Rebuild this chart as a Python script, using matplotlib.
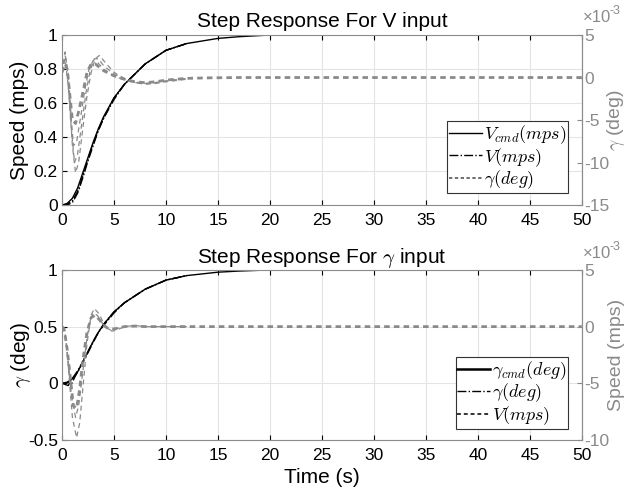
import numpy as np
import matplotlib.pyplot as plt
from matplotlib.ticker import MultipleLocator, FuncFormatter

plt.rcParams['font.family'] = ['Liberation Sans', 'DejaVu Sans']
plt.rcParams['mathtext.fontset'] = 'cm'
plt.rcParams['axes.unicode_minus'] = False

GRAY = '#8a8a8a'
BOX = '#8c8c8c'

# ---- V input step: commanded and measured speed (mps) ----
t_cmd = [0, 0.5, 1, 1.5, 2, 2.5, 3, 3.5, 4, 5, 6, 7, 8, 9, 10, 11, 12, 13, 14, 15, 17, 20, 25, 50]
v_cmd = [0, 0.01, 0.04, 0.10, 0.19, 0.28, 0.37, 0.45, 0.52, 0.63, 0.71, 0.77, 0.83, 0.87,
         0.91, 0.93, 0.95, 0.96, 0.97, 0.98, 0.99, 1.0, 1.0, 1.0]

t_meas = [0, 0.5, 1, 1.5, 2, 2.5, 3, 3.5, 4, 5, 6, 7, 8, 9, 10, 11, 12]
v_meas_a = [0, 0.005, 0.025, 0.08, 0.17, 0.27, 0.36, 0.44, 0.51, 0.63, 0.71, 0.77, 0.83, 0.87, 0.91, 0.93, 0.95]
v_meas_b = [0, 0.0, 0.015, 0.07, 0.16, 0.26, 0.35, 0.44, 0.51, 0.62, 0.71, 0.77, 0.83, 0.87, 0.91, 0.93, 0.95]

# flight path angle response to V input (deg x 1e-3)
tg1 = [0, 0.3, 0.5, 0.8, 1.0, 1.3, 1.6, 2.0, 2.4, 2.8, 3.2, 3.6, 4.0, 5, 6, 7, 8, 9, 10, 11, 12, 14, 17, 20, 50]
g1 = [0.6, 1.6, 1.0, -2.6, -5.0, -5.4, -4.0, -1.8, 0.6, 1.6, 1.6, 1.2, 0.8, 0.2, -0.2, -0.5, -0.6,
      -0.5, -0.3, -0.2, -0.1, -0.04, 0, 0, 0]
tg2 = [0, 0.3, 0.6, 0.9, 1.1, 1.4, 1.8, 2.2, 2.6, 3.0, 3.4, 4.0, 5, 6, 7, 8, 9, 10, 12]
g2 = [0.6, 2.6, 0.6, -5.0, -8.0, -7.6, -4.6, -1.4, 1.0, 2.0, 1.8, 1.0, 0.2, -0.3, -0.6, -0.7, -0.6, -0.4, -0.1]
tg3 = [0, 0.3, 0.6, 0.9, 1.2, 1.5, 1.9, 2.3, 2.7, 3.1, 3.5, 4.0, 5, 6, 7, 8, 9, 10, 12]
g3 = [0.6, 3.0, 0.0, -6.0, -10.0, -9.0, -5.4, -1.8, 0.8, 2.2, 2.2, 1.4, 0.4, -0.2, -0.6, -0.8, -0.7, -0.5, -0.2]
tg4 = [0, 0.3, 0.6, 1.0, 1.3, 1.6, 2.0, 2.4, 2.8, 3.2, 3.6, 4.0, 5, 6, 7, 8, 9, 10, 12]
g4 = [0.6, 2.2, -1.0, -8.0, -11.2, -10.0, -6.0, -2.2, 0.6, 2.2, 2.6, 2.0, 0.6, -0.1, -0.5, -0.7, -0.6, -0.4, -0.1]

# ---- gamma input step: commanded and measured gamma (deg) ----
gam_cmd = [0, 0.01, 0.04, 0.10, 0.19, 0.28, 0.37, 0.45, 0.52, 0.63, 0.71, 0.77, 0.83, 0.87,
           0.91, 0.93, 0.95, 0.96, 0.97, 0.98, 0.99, 1.0, 1.0, 1.0]
t_gm = [0, 0.3, 0.6, 0.9, 1.2, 1.5, 2, 2.5, 3, 3.5, 4, 5, 6, 7, 8, 9, 10, 11, 12]
gam_meas_a = [0, -0.01, -0.02, 0.03, 0.07, 0.11, 0.19, 0.28, 0.37, 0.45, 0.52, 0.63, 0.71, 0.77, 0.83, 0.87, 0.91, 0.93, 0.95]
gam_meas_b = [0, 0.0, 0.01, -0.01, 0.05, 0.10, 0.18, 0.27, 0.36, 0.45, 0.51, 0.62, 0.71, 0.77, 0.83, 0.87, 0.91, 0.93, 0.95]

# speed response to gamma input (mps x 1e-3)
tv1 = [0, 0.2, 0.5, 0.8, 1.1, 1.4, 1.7, 2.0, 2.4, 2.8, 3.2, 3.6, 4.0, 4.5, 5.0, 5.5, 6, 7, 8, 10, 12, 50]
sv1 = [0, -0.2, -2.0, -4.5, -7.0, -7.2, -5.5, -3.0, -0.5, 0.8, 1.0, 0.6, 0.1, -0.2, -0.2, -0.1, 0, 0.05, 0, 0, 0, 0]
tv2 = [0, 0.3, 0.6, 0.9, 1.3, 1.6, 2.0, 2.4, 2.7, 3.0, 3.4, 3.8, 4.2, 4.7, 5.2, 6, 7, 8, 12]
sv2 = [0, -0.5, -3.0, -6.0, -8.0, -7.0, -4.0, -1.0, 0.6, 1.2, 1.0, 0.4, -0.1, -0.3, -0.2, 0, 0.05, 0, 0]
tv3 = [0, 0.3, 0.6, 1.0, 1.4, 1.7, 2.0, 2.4, 2.8, 3.1, 3.5, 3.9, 4.3, 4.8, 5.3, 6, 7, 8, 12]
sv3 = [0, -0.6, -3.5, -8.0, -9.8, -8.5, -5.5, -1.5, 1.0, 1.6, 1.2, 0.5, -0.1, -0.4, -0.3, 0, 0.1, 0, 0]

SCALE = 1e-3
TICK_FS = 12.5
LABEL_FS = 15

g_fmt = FuncFormatter(lambda v, p: '%g' % v)
milli_fmt = FuncFormatter(lambda v, p: '%g' % round(v / SCALE, 6))


def style_axes(ax, axr, ylim, yticks, rlim, rticks):
    ax.set_xlim(0, 50)
    ax.set_ylim(*ylim)
    ax.set_yticks(yticks)
    ax.yaxis.set_major_formatter(g_fmt)
    ax.xaxis.set_major_locator(MultipleLocator(5))
    ax.xaxis.set_major_formatter(g_fmt)
    ax.grid(True, color='#e4e4e4', linewidth=0.8)
    ax.set_axisbelow(True)
    ax.tick_params(direction='in', length=3.5, labelsize=TICK_FS, top=True, pad=3,
                   colors='black')
    ax.tick_params(axis='x', pad=6)
    for s in ax.spines.values():
        s.set_color(BOX)
        s.set_linewidth(0.8)
    axr.set_ylim(*rlim)
    axr.set_yticks(rticks)
    axr.yaxis.set_major_formatter(milli_fmt)
    axr.tick_params(direction='in', length=3.5, labelsize=TICK_FS, colors=GRAY, pad=2)
    for s in axr.spines.values():
        s.set_visible(False)
    axr.spines['right'].set_visible(True)
    axr.spines['right'].set_color(BOX)
    axr.spines['right'].set_linewidth(0.8)


def exponent_tag(y_base):
    # x10^-3 multiplier drawn above the right-hand axis
    fig.text(583 / 627, y_base, '×10', fontsize=12, color=GRAY, ha='left', va='baseline')
    fig.text(610 / 627, y_base + 0.016, '-3', fontsize=9, color=GRAY, ha='left', va='baseline')


def add_legend(axr, handles, y0):
    leg = axr.legend(handles, [h.get_label() for h in handles], loc='lower right',
                     bbox_to_anchor=(0.973, y0), fontsize=13, fancybox=False, framealpha=1,
                     edgecolor='#333333', handlelength=1.8, handletextpad=0.1, borderpad=0.1,
                     labelspacing=0.0, borderaxespad=0)
    leg.get_frame().set_linewidth(0.8)
    return leg


fig = plt.figure(figsize=(6.27, 4.93), dpi=100)

# top panel: V input
ax1 = fig.add_axes([0.0989, 0.584, 0.829, 0.345])
ax1r = ax1.twinx()
h1, = ax1.plot(t_cmd, v_cmd, color='black', linewidth=1.0, label='$V_{cmd}(mps)$')
h2, = ax1.plot(t_meas, v_meas_a, color='black', linewidth=1.0, linestyle='-.', label='$V(mps)$')
ax1.plot(t_meas, v_meas_b, color='black', linewidth=1.0, linestyle='-.')
h3, = ax1r.plot(tg1, np.array(g1) * SCALE, color=GRAY, linewidth=2.0, dashes=(2, 1.5), label=r'$\gamma(deg)$')
for tt, gg in [(tg2, g2), (tg3, g3), (tg4, g4)]:
    ax1r.plot(tt, np.array(gg) * SCALE, color=GRAY, linewidth=0.9, dashes=(4, 3))
style_axes(ax1, ax1r, (0, 1), [0, 0.2, 0.4, 0.6, 0.8, 1], (-0.015, 0.005),
           [-0.015, -0.010, -0.005, 0, 0.005])
ax1.set_title('Step Response For V input', fontsize=LABEL_FS, pad=6)
ax1.set_ylabel('Speed (mps)', fontsize=LABEL_FS)
ax1.yaxis.set_label_coords(-0.063, 0.5)
ax1r.set_ylabel(r'$\gamma$ (deg)', fontsize=14, color=GRAY)
ax1r.yaxis.set_label_coords(1.044, 0.5)
exponent_tag(1 - 22 / 493)
leg1 = add_legend(ax1r, [h1, h2, h3], 0.07)
leg1.get_lines()[2].set_color('#555555')
leg1.get_lines()[2].set_linewidth(1.2)

# bottom panel: gamma input
ax2 = fig.add_axes([0.0989, 0.1075, 0.829, 0.345])
ax2r = ax2.twinx()
k1, = ax2.plot(t_cmd, gam_cmd, color='black', linewidth=1.0, label=r'$\gamma_{cmd}(deg)$')
k2, = ax2.plot(t_gm, gam_meas_a, color='black', linewidth=1.0, linestyle='-.', label=r'$\gamma(deg)$')
ax2.plot(t_gm, gam_meas_b, color='black', linewidth=1.0, linestyle='-.')
k3, = ax2r.plot(tv1, np.array(sv1) * SCALE, color=GRAY, linewidth=2.0, dashes=(2, 1.5), label='$V(mps)$')
for tt, vv in [(tv2, sv2), (tv3, sv3)]:
    ax2r.plot(tt, np.array(vv) * SCALE, color=GRAY, linewidth=0.9, dashes=(4, 3))
style_axes(ax2, ax2r, (-0.5, 1), [-0.5, 0, 0.5, 1], (-0.010, 0.005),
           [-0.010, -0.005, 0, 0.005])
ax2.set_title(r'Step Response For $\gamma$ input', fontsize=LABEL_FS, pad=0)
ax2.set_ylabel(r'$\gamma$ (deg)', fontsize=LABEL_FS)
ax2.yaxis.set_label_coords(-0.055, 0.5)
ax2.set_xlabel('Time (s)', fontsize=LABEL_FS, labelpad=3)
ax2r.set_ylabel('Speed (mps)', fontsize=14, color=GRAY)
ax2r.yaxis.set_label_coords(1.05, 0.5)
exponent_tag(1 - 258 / 493)
leg2 = add_legend(ax2r, [k1, k2, k3], 0.065)
leg2.get_lines()[0].set_linewidth(1.8)
leg2.get_lines()[2].set_color('#333333')
leg2.get_lines()[2].set_linewidth(1.4)

fig.savefig('out.png', dpi=100, facecolor='white')
